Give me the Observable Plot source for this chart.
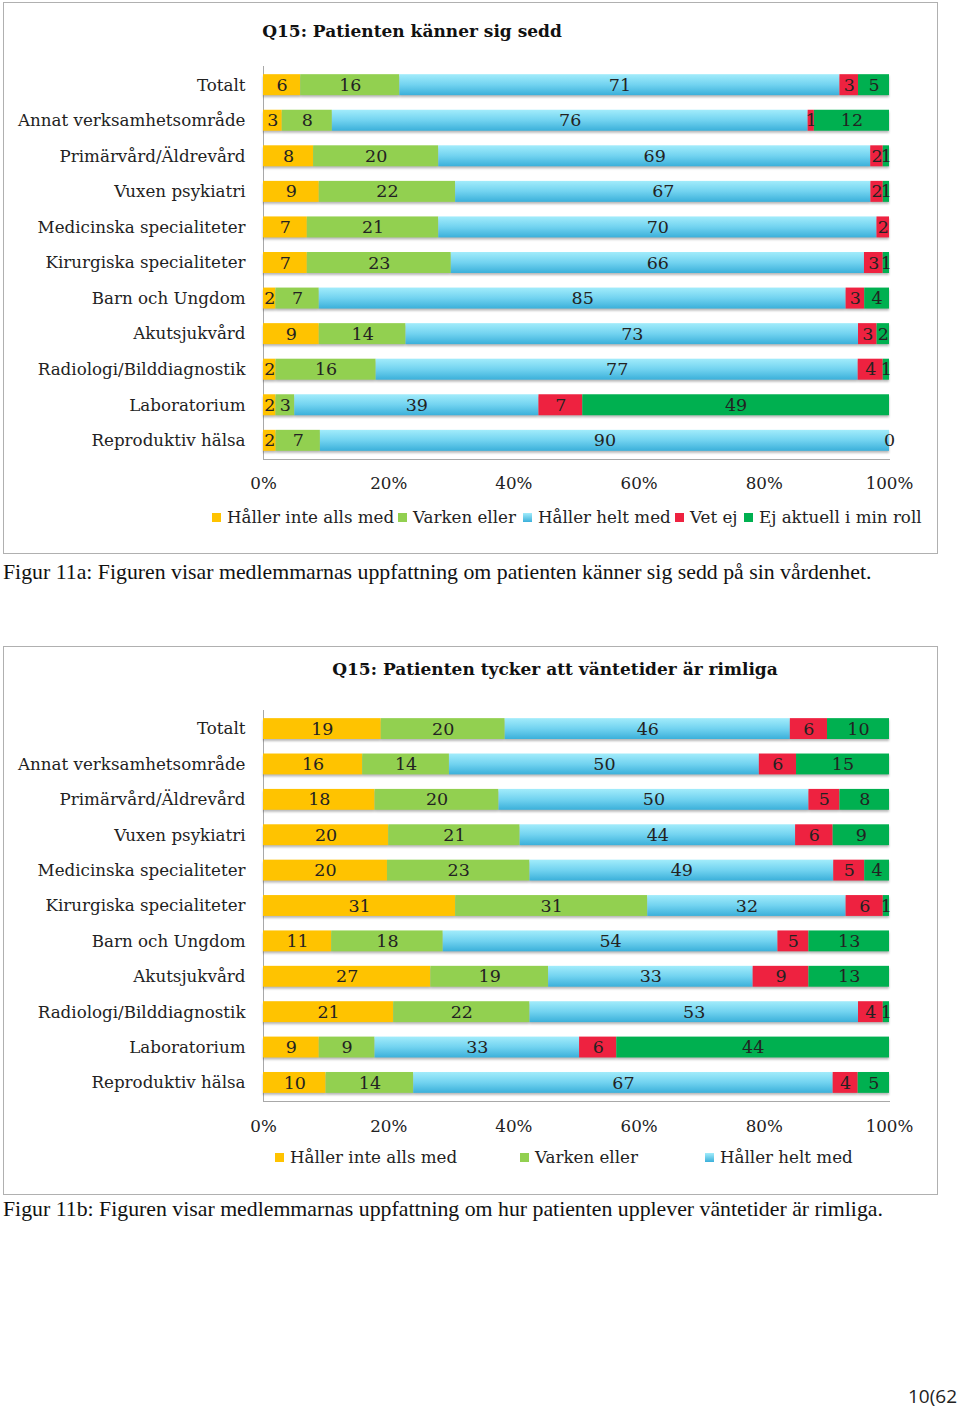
<!DOCTYPE html>
<html>
<head>
<meta charset="utf-8">
<script src="https://cdn.jsdelivr.net/npm/d3@7"></script>
<script src="https://cdn.jsdelivr.net/npm/@observablehq/plot@0.6"></script>
<style>
  html, body { margin: 0; padding: 0; background: #fff; }
  body { width: 960px; height: 1410px; position: relative; overflow: hidden; font-family: "DejaVu Serif", serif; }
  .box { position: absolute; border: 1.5px solid #b0b0b0; box-sizing: border-box; }
  .title { position: absolute; font-weight: bold; font-size: 17px; color: #111; white-space: nowrap; transform: translate(-50%, -50%); }
  .chart { position: absolute; left: 0; }
  .chart svg text { fill: #222; }
  .bars { filter: drop-shadow(0px 2px 1.2px rgba(0,0,0,0.28)); }
  .legend { position: absolute; font-size: 16.7px; color: #222; white-space: nowrap; transform: translateY(-50%); display: flex; align-items: center; }
  .sw { width: 9px; height: 9px; display: inline-block; margin-right: 6px; }
  .caption { position: absolute; left: 3px; font-family: "Liberation Serif", serif; font-size: 21.8px; color: #111; white-space: nowrap; transform: translateY(-50%); }
  .page { position: absolute; right: 3px; top: 1396px; transform: translateY(-50%); font-family: "Open Sans", sans-serif; font-size: 19px; color: #222; }
</style>
</head>
<body>
<svg width="0" height="0" style="position:absolute">
  <defs>
    <linearGradient id="blueGrad" x1="0" y1="0" x2="0" y2="1">
      <stop offset="0" stop-color="#a2ecfb"/>
      <stop offset="0.5" stop-color="#72d3f0"/>
      <stop offset="1" stop-color="#3bb0da"/>
    </linearGradient>
  </defs>
</svg>

<div class="box" style="left:3px; top:2px; width:935px; height:552px;"></div>
<div class="box" style="left:3px; top:646px; width:935px; height:549px;"></div>

<div class="title" style="left:412px; top:31px;">Q15: Patienten känner sig sedd</div>
<div class="title" style="left:555px; top:669px;">Q15: Patienten tycker att väntetider är rimliga</div>

<div id="chart1" class="chart" style="top:0px;"></div>
<div id="chart2" class="chart" style="top:644px;"></div>

<div id="legend1"></div>
<div id="legend2"></div>

<div class="caption" style="top:572px;">Figur 11a: Figuren visar medlemmarnas uppfattning om patienten känner sig sedd på sin vårdenhet.</div>
<div class="caption" style="top:1209px;">Figur 11b: Figuren visar medlemmarnas uppfattning om hur patienten upplever väntetider är rimliga.</div>
<div class="page">10(62</div>

<script>
// ---- Data ----
const categories = [
  "Totalt", "Annat verksamhetsområde", "Primärvård/Äldrevård", "Vuxen psykiatri",
  "Medicinska specialiteter", "Kirurgiska specialiteter", "Barn och Ungdom",
  "Akutsjukvård", "Radiologi/Bilddiagnostik", "Laboratorium", "Reproduktiv hälsa"
];
const seriesNames = ["Håller inte alls med", "Varken eller", "Håller helt med", "Vet ej", "Ej aktuell i min roll"];
const seriesColors = ["#ffc300", "#92d050", "url(#blueGrad)", "#ee2240", "#00b050"];
const swatchColors = ["#ffc300", "#92d050", "linear-gradient(#a2ecfb,#3bb0da)", "#ee2240", "#00b050"];

// Chart 1: Q15 Patienten känner sig sedd
const c1_hallerInteAllsMed = [6, 3, 8, 9, 7, 7, 2, 9, 2, 2, 2];
const c1_varkenEller       = [16, 8, 20, 22, 21, 23, 7, 14, 16, 3, 7];
const c1_hallerHeltMed     = [71, 76, 69, 67, 70, 66, 85, 73, 77, 39, 90];
const c1_vetEj             = [3, 1, 2, 2, 2, 3, 3, 3, 4, 7, 0];
const c1_ejAktuell         = [5, 12, 1, 1, null, 1, 4, 2, 1, 49, null];

// Chart 2: Q15 Patienten tycker att väntetider är rimliga
const c2_hallerInteAllsMed = [19, 16, 18, 20, 20, 31, 11, 27, 21, 9, 10];
const c2_varkenEller       = [20, 14, 20, 21, 23, 31, 18, 19, 22, 9, 14];
const c2_hallerHeltMed     = [46, 50, 50, 44, 49, 32, 54, 33, 53, 33, 67];
const c2_vetEj             = [6, 6, 5, 6, 5, 6, 5, 9, 4, 6, 4];
const c2_ejAktuell         = [10, 15, 8, 9, 4, 1, 13, 13, 1, 44, 5];

const xTicks = [0, 0.2, 0.4, 0.6, 0.8, 1];

function tidy(seriesArrays) {
  const rows = [];
  categories.forEach((cat, i) => {
    seriesArrays.forEach((arr, s) => {
      const v = arr[i];
      if (v != null) rows.push({category: cat, series: seriesNames[s], value: v});
    });
  });
  return rows;
}

function makeChart(rows, height, marginTop, marginBottom, tickPadding) {
  const stackOpts = {x: "value", y: "category", z: "series", order: seriesNames, offset: "normalize"};
  return Plot.plot({
    width: 960,
    height: height,
    marginLeft: 263,
    marginRight: 71,
    marginTop: marginTop,
    marginBottom: marginBottom,
    style: {fontFamily: "DejaVu Serif, serif", fontSize: "16.7px", color: "#a8a8a8", background: "transparent", overflow: "visible"},
    x: {domain: [0, 1], ticks: xTicks, tickFormat: d3.format(".0%"), tickSize: 0, tickPadding: tickPadding, label: null, line: true},
    y: {domain: categories, paddingInner: 0.41, paddingOuter: 0.23, round: false, tickSize: 0, tickPadding: 18, label: null, line: true},
    color: {domain: seriesNames, range: seriesColors},
    marks: [
      Plot.barX(rows, Plot.stackX({...stackOpts, fill: "series", className: "bars"})),
      Plot.text(rows, Plot.stackX({...stackOpts, text: d => String(d.value), fill: "#111", fontSize: 17.5}))
    ]
  });
}

document.getElementById("chart1").append(
  makeChart(tidy([c1_hallerInteAllsMed, c1_varkenEller, c1_hallerHeltMed, c1_vetEj, c1_ejAktuell]), 500, 66, 41, 18)
);
document.getElementById("chart2").append(
  makeChart(tidy([c2_hallerInteAllsMed, c2_varkenEller, c2_hallerHeltMed, c2_vetEj, c2_ejAktuell]), 500, 66, 43, 19)
);

function legend(containerId, items, xs, y) {
  const c = document.getElementById(containerId);
  items.forEach((idx, k) => {
    const d = document.createElement("div");
    d.className = "legend";
    d.style.left = xs[k] + "px";
    d.style.top = y + "px";
    const sw = document.createElement("span");
    sw.className = "sw";
    sw.style.background = swatchColors[idx];
    d.append(sw, document.createTextNode(seriesNames[idx]));
    c.append(d);
  });
}
legend("legend1", [0, 1, 2, 3, 4], [212, 398, 523, 675, 744], 517);
legend("legend2", [0, 1, 2], [275, 520, 705], 1157);
</script>
</body>
</html>
